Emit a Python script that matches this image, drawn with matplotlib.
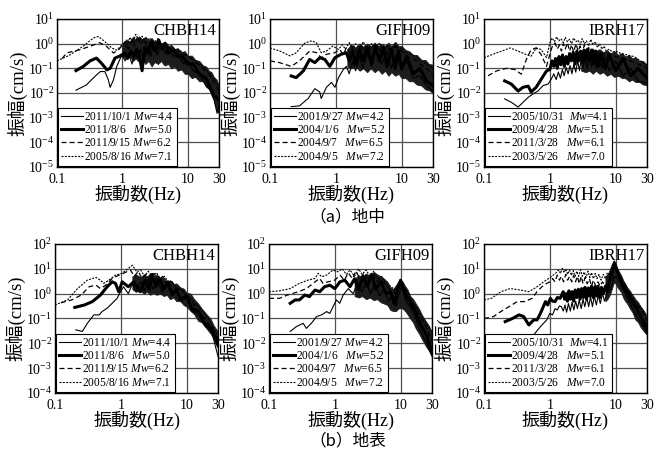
import matplotlib
matplotlib.use("Agg")
import matplotlib.pyplot as plt
from matplotlib.lines import Line2D
from matplotlib.ticker import FixedLocator, FixedFormatter, NullLocator

plt.rcParams['font.family'] = ['Liberation Serif', 'Noto Sans CJK JP']
plt.rcParams['mathtext.fontset'] = 'custom'
plt.rcParams['mathtext.rm'] = 'Liberation Serif'
plt.rcParams['mathtext.it'] = 'Liberation Serif:italic'
plt.rcParams['mathtext.bf'] = 'Liberation Serif:bold'
plt.rcParams['mathtext.default'] = 'rm'

# ---------------- data: (a) borehole ----------------
stations = ["CHBH14", "GIFH09", "IBRH17"]

a1_f71 = [0.1, 0.158, 0.25, 0.36, 0.43, 0.54, 0.69, 0.82, 1.03, 1.15, 1.3, 1.45, 1.6, 1.8, 2.0, 2.3, 2.6, 3.0, 3.5, 4.0, 4.6, 5.3, 6.0, 7.0, 8.0, 10, 13, 17, 22, 30]
a1_a71 = [0.2, 0.35, 0.78, 1.7, 1.95, 1.2, 0.66, 0.55, 1.0, 0.7, 1.8, 1.1, 2.4, 1.3, 2.0, 1.0, 1.7, 1.1, 1.6, 0.8, 1.2, 0.6, 0.7, 0.45, 0.5, 0.3, 0.2, 0.12, 0.06, 0.02]
a1_f62 = [0.12, 0.14, 0.22, 0.32, 0.45, 0.57, 0.73, 0.87, 1.1, 1.25, 1.4, 1.55, 1.7, 1.9, 2.1, 2.4, 2.8, 3.2, 3.7, 4.3, 5.0, 6.0, 7.0, 8.5, 10, 13, 17, 22, 30]
a1_a62 = [0.25, 0.42, 0.56, 0.78, 1.1, 0.78, 0.42, 0.55, 1.2, 0.6, 1.5, 0.8, 2.0, 0.9, 1.6, 0.7, 1.4, 0.8, 1.3, 0.6, 0.9, 0.5, 0.6, 0.35, 0.35, 0.18, 0.1, 0.05, 0.012]
a1_f50 = [0.195, 0.25, 0.32, 0.4, 0.48, 0.58, 0.65, 0.77, 0.92, 1.1, 1.2, 1.35, 1.5, 1.65, 1.8, 2.0, 2.2, 2.5, 2.8, 3.2, 3.6, 4.0, 4.5, 5.0, 6.0, 7.0, 8.0, 10, 12, 15, 19, 24, 30]
a1_a50 = [0.081, 0.117, 0.2, 0.26, 0.16, 0.087, 0.1, 0.26, 0.32, 0.42, 0.25, 0.5, 0.3, 0.6, 0.35, 0.08, 0.7, 0.4, 1.2, 0.5, 1.4, 0.6, 1.0, 0.4, 0.6, 0.3, 0.35, 0.15, 0.15, 0.06, 0.04, 0.01, 0.005]
a1_f44 = [0.195, 0.28, 0.38, 0.46, 0.54, 0.61, 0.65, 0.73, 0.82, 0.98, 1.1, 1.25, 1.4, 1.55, 1.7, 1.9, 2.1, 2.4, 2.7, 3.0, 3.4, 3.9, 4.5, 5.2, 6.0, 7.0, 8.5, 10, 12, 15, 19, 24, 28, 30]
a1_a44 = [0.013, 0.021, 0.047, 0.074, 0.074, 0.034, 0.017, 0.034, 0.12, 0.35, 0.2, 0.4, 0.15, 0.45, 0.25, 0.6, 0.2, 0.7, 0.3, 0.9, 0.35, 1.0, 0.4, 0.7, 0.3, 0.4, 0.15, 0.2, 0.08, 0.06, 0.02, 0.01, 0.0015, 0.003]
a1_band_f = [1.0, 1.15, 1.3, 1.45, 1.6, 1.8, 2.0, 2.25, 2.5, 2.8, 3.1, 3.5, 3.9, 4.4, 5.0, 5.6, 6.3, 7.0, 8.0, 9.0, 10, 11.5, 13, 15, 17, 19, 21, 23, 25, 27.5, 30]
a1_band_hi = [1.0, 1.5, 1.2, 1.9, 1.4, 2.0, 1.5, 1.9, 1.4, 1.7, 1.2, 1.5, 1.0, 1.2, 0.8, 0.9, 0.6, 0.65, 0.45, 0.5, 0.32, 0.33, 0.22, 0.2, 0.13, 0.12, 0.08, 0.07, 0.045, 0.035, 0.02]
a1_band_lo = [0.3, 0.25, 0.3, 0.2, 0.25, 0.18, 0.22, 0.15, 0.2, 0.12, 0.18, 0.15, 0.2, 0.13, 0.15, 0.1, 0.12, 0.08, 0.09, 0.06, 0.06, 0.04, 0.045, 0.03, 0.03, 0.018, 0.015, 0.008, 0.005, 0.002, 0.0015]

a2_f72 = [0.1, 0.142, 0.2, 0.25, 0.34, 0.43, 0.51, 0.6, 0.72, 0.9, 1.1, 1.25, 1.4, 1.6, 1.8, 2.0, 2.3, 2.6, 3.0, 3.5, 4.0, 4.6, 5.3, 6.0, 7.0, 8.0, 9.0, 10, 12, 15, 19, 24, 30]
a2_a72 = [0.67, 0.5, 0.32, 0.43, 1.07, 1.3, 1.07, 0.43, 0.5, 0.8, 0.58, 0.9, 0.6, 1.1, 0.6, 1.0, 0.6, 1.2, 0.6, 1.0, 0.5, 1.1, 0.5, 0.9, 0.5, 1.0, 0.4, 0.7, 0.4, 0.35, 0.2, 0.15, 0.1]
a2_f65 = [0.1, 0.14, 0.21, 0.28, 0.4, 0.51, 0.6, 0.72, 0.97, 1.15, 1.3, 1.45, 1.65, 1.85, 2.1, 2.4, 2.8, 3.2, 3.7, 4.3, 5.0, 6.0, 7.0, 8.0, 10, 12, 15, 19, 24, 30]
a2_a65 = [0.2, 0.17, 0.12, 0.2, 0.5, 0.43, 0.27, 0.37, 0.43, 0.58, 0.35, 0.7, 0.4, 0.8, 0.4, 0.9, 0.4, 0.8, 0.35, 0.9, 0.4, 0.8, 0.35, 0.8, 0.5, 0.3, 0.25, 0.15, 0.1, 0.05]
a2_f52 = [0.21, 0.25, 0.32, 0.4, 0.48, 0.57, 0.68, 0.81, 0.97, 1.2, 1.45, 1.6, 1.8, 2.0, 2.3, 2.6, 3.0, 3.5, 4.0, 4.6, 5.3, 6.0, 7.0, 8.0, 9.0, 10, 12, 15, 19, 24, 30]
a2_a52 = [0.049, 0.042, 0.078, 0.23, 0.17, 0.27, 0.23, 0.12, 0.27, 0.37, 0.43, 0.2, 0.5, 0.15, 0.6, 0.2, 0.7, 0.15, 0.8, 0.2, 0.7, 0.12, 0.6, 0.1, 0.5, 0.1, 0.3, 0.06, 0.1, 0.03, 0.02]
a2_f42 = [0.21, 0.28, 0.38, 0.48, 0.57, 0.6, 0.72, 0.86, 0.97, 1.1, 1.3, 1.45, 1.6, 1.8, 2.0, 2.3, 2.6, 3.0, 3.5, 4.0, 5.0, 6.0, 7.0, 8.5, 10, 12, 15, 19, 24, 30]
a2_a42 = [0.0028, 0.003, 0.006, 0.015, 0.011, 0.006, 0.017, 0.027, 0.017, 0.042, 0.09, 0.12, 0.06, 0.2, 0.08, 0.3, 0.1, 0.4, 0.12, 0.5, 0.15, 0.5, 0.1, 0.4, 0.08, 0.2, 0.04, 0.05, 0.02, 0.012]
a2_band_f = [1.5, 1.7, 2, 2.3, 2.6, 3, 3.4, 3.9, 4.4, 5, 5.6, 6.3, 7, 8, 9, 10, 11.5, 13, 15, 17, 20, 23, 26, 30]
a2_band_hi = [0.6, 0.9, 0.7, 1.0, 0.75, 1.0, 0.8, 1.1, 0.8, 1.0, 0.8, 1.1, 0.8, 1.2, 0.8, 0.8, 0.55, 0.5, 0.35, 0.35, 0.22, 0.22, 0.15, 0.14]
a2_band_lo = [0.12, 0.1, 0.12, 0.08, 0.1, 0.07, 0.1, 0.07, 0.09, 0.06, 0.08, 0.05, 0.07, 0.05, 0.06, 0.04, 0.04, 0.03, 0.03, 0.022, 0.02, 0.014, 0.013, 0.01]

a3_f70 = [0.1, 0.154, 0.25, 0.33, 0.44, 0.52, 0.62, 0.74, 0.89, 1.0, 1.08, 1.18, 1.27, 1.37, 1.48, 1.6, 1.72, 1.85, 2.0, 2.15, 2.3, 2.5, 2.7, 2.9, 3.1, 3.35, 3.6, 3.9, 4.2, 4.5, 4.9, 5.3, 5.7, 6.2, 6.7, 7.2, 8.0, 9, 10, 12, 15, 19, 24, 30]
a3_a70 = [0.27, 0.42, 0.67, 0.5, 0.36, 0.31, 0.67, 0.58, 0.27, 1.06, 1.7, 1.2, 1.9, 1.3, 1.6, 1.1, 1.8, 1.2, 1.5, 1.0, 1.7, 1.2, 1.4, 0.9, 1.6, 1.0, 1.3, 0.8, 1.5, 0.9, 1.2, 0.7, 1.0, 0.6, 0.8, 0.5, 0.6, 0.45, 0.5, 0.4, 0.35, 0.3, 0.2, 0.13]
a3_f61 = [0.115, 0.154, 0.22, 0.29, 0.37, 0.44, 0.52, 0.62, 0.74, 0.89, 1.05, 1.12, 1.2, 1.3, 1.4, 1.5, 1.6, 1.72, 1.85, 2.0, 2.15, 2.3, 2.5, 2.7, 2.9, 3.1, 3.35, 3.6, 3.9, 4.2, 4.5, 4.9, 5.3, 5.7, 6.2, 7, 8, 10, 13, 17, 22, 30]
a3_a61 = [0.05, 0.078, 0.1, 0.09, 0.058, 0.23, 0.58, 0.67, 0.36, 0.12, 0.58, 0.9, 1.06, 0.6, 0.9, 0.5, 1.0, 0.6, 1.1, 0.5, 0.9, 0.45, 1.0, 0.5, 0.8, 0.4, 0.9, 0.4, 0.7, 0.35, 0.6, 0.3, 0.5, 0.3, 0.45, 0.3, 0.4, 0.3, 0.25, 0.2, 0.15, 0.1]
a3_f51 = [0.206, 0.26, 0.33, 0.39, 0.47, 0.52, 0.62, 0.74, 0.89, 1.0, 1.08, 1.15, 1.22, 1.3, 1.38, 1.47, 1.56, 1.66, 1.77, 1.88, 2.0, 2.13, 2.27, 2.42, 2.58, 2.75, 2.93, 3.12, 3.3, 3.5, 3.75, 4.0, 4.3, 4.6, 5.0, 5.5, 6.0, 7, 8, 10, 13, 17, 22, 30]
a3_a51 = [0.031, 0.023, 0.012, 0.017, 0.019, 0.011, 0.017, 0.036, 0.078, 0.09, 0.2, 0.12, 0.25, 0.1, 0.3, 0.14, 0.35, 0.12, 0.3, 0.15, 0.4, 0.2, 0.45, 0.15, 0.5, 0.2, 0.5, 0.18, 0.55, 0.2, 0.6, 0.2, 0.55, 0.15, 0.5, 0.12, 0.4, 0.1, 0.35, 0.08, 0.25, 0.05, 0.1, 0.04]
a3_f41 = [0.206, 0.26, 0.33, 0.37, 0.47, 0.55, 0.66, 0.79, 0.94, 1.05, 1.15, 1.25, 1.35, 1.45, 1.55, 1.65, 1.77, 1.9, 2.03, 2.17, 2.32, 2.48, 2.65, 2.83, 3.0, 3.2, 3.45, 3.7, 4.0, 4.3, 4.7, 5.1, 5.6, 6.2, 7, 8, 10, 13, 17, 22, 30]
a3_a41 = [0.0058, 0.0042, 0.0027, 0.0036, 0.0067, 0.009, 0.012, 0.02, 0.023, 0.036, 0.06, 0.035, 0.07, 0.04, 0.09, 0.05, 0.11, 0.06, 0.13, 0.06, 0.15, 0.07, 0.2, 0.08, 0.25, 0.1, 0.3, 0.1, 0.35, 0.12, 0.4, 0.1, 0.4, 0.1, 0.3, 0.08, 0.2, 0.05, 0.1, 0.03, 0.025]
a3_band_f = [3, 3.5, 4, 4.5, 5, 5.7, 6.5, 7.4, 8.4, 9.5, 11, 12.5, 14, 16, 18, 20, 23, 26, 30]
a3_band_hi = [0.4, 0.55, 0.45, 0.6, 0.5, 0.6, 0.45, 0.55, 0.4, 0.5, 0.35, 0.42, 0.3, 0.35, 0.25, 0.28, 0.2, 0.2, 0.14]
a3_band_lo = [0.08, 0.07, 0.08, 0.06, 0.08, 0.06, 0.07, 0.05, 0.06, 0.045, 0.05, 0.04, 0.04, 0.03, 0.035, 0.028, 0.028, 0.022, 0.021]

# ---------------- data: (b) surface ----------------
b1_f71 = [0.1, 0.155, 0.22, 0.31, 0.42, 0.49, 0.55, 0.66, 0.83, 1.05, 1.3, 1.5, 1.75, 2.0, 2.3, 2.6, 3.0, 3.5, 4.0, 4.6, 5.3, 6.0, 7.0, 8.0, 10, 12, 15, 19, 24, 30]
b1_a71 = [0.35, 0.56, 1.6, 3.5, 4.5, 3.5, 2.6, 3.5, 5.6, 6.6, 10.4, 14, 7.6, 9, 5, 8, 5, 7, 4, 5, 3, 3, 1.8, 1.5, 0.9, 0.6, 0.3, 0.15, 0.06, 0.02]
b1_f62 = [0.123, 0.18, 0.25, 0.33, 0.42, 0.49, 0.59, 0.74, 0.94, 1.1, 1.4, 1.6, 1.85, 2.1, 2.4, 2.8, 3.2, 3.7, 4.3, 5.0, 6.0, 7.0, 8.5, 10, 12, 15, 19, 24, 30]
b1_a62 = [0.43, 0.56, 0.88, 1.9, 2.2, 1.6, 2.2, 4.1, 5.6, 6.6, 9, 5, 8, 4, 6, 3.5, 6.5, 3, 5, 2.5, 3, 1.5, 1.5, 0.7, 0.5, 0.2, 0.1, 0.04, 0.015]
b1_f50 = [0.2, 0.28, 0.37, 0.49, 0.62, 0.74, 0.83, 0.93, 1.05, 1.3, 1.57, 1.98, 2.35, 2.7, 3.0, 3.4, 3.9, 4.5, 5.2, 6.0, 7.0, 8.0, 10, 12, 15, 19, 24, 30]
b1_a50 = [0.28, 0.35, 0.48, 0.88, 1.9, 3.0, 2.6, 1.2, 3.0, 1.9, 3.0, 1.2, 3.5, 1.5, 6, 2, 4, 1.5, 3, 1, 1.5, 0.6, 0.8, 0.25, 0.2, 0.06, 0.04, 0.008]
b1_f44 = [0.207, 0.26, 0.31, 0.39, 0.47, 0.52, 0.62, 0.74, 0.88, 0.99, 1.1, 1.3, 1.5, 1.7, 2.0, 2.3, 2.7, 3.1, 3.6, 4.2, 5.0, 6.0, 7.0, 8.5, 10, 12, 15, 19, 24, 30]
b1_a44 = [0.035, 0.03, 0.064, 0.14, 0.14, 0.19, 0.26, 0.41, 0.65, 1.2, 1.9, 1.0, 2.5, 1.2, 3.0, 1.3, 4, 1.5, 3.5, 1.2, 2.5, 0.8, 1.2, 0.5, 0.7, 0.2, 0.15, 0.05, 0.03, 0.003]
b1_band_f = [1.5, 1.7, 2, 2.25, 2.5, 2.8, 3.1, 3.5, 4, 4.5, 5, 5.6, 6.3, 7, 8, 9, 10, 11.5, 13, 15, 17, 20, 23, 26, 30]
b1_band_hi = [5, 6, 4.5, 6, 5, 6.5, 5, 6, 4, 4.5, 3, 3.5, 2.4, 2.6, 1.8, 1.6, 1.1, 1.0, 0.6, 0.4, 0.25, 0.15, 0.1, 0.05, 0.03]
b1_band_lo = [1.5, 1.2, 1.3, 1.0, 1.2, 0.9, 1.1, 0.9, 1.0, 0.8, 0.9, 0.6, 0.7, 0.5, 0.5, 0.35, 0.3, 0.2, 0.15, 0.08, 0.07, 0.04, 0.025, 0.015, 0.008]

b2_f72 = [0.1, 0.145, 0.21, 0.29, 0.39, 0.5, 0.56, 0.63, 0.75, 0.94, 1.12, 1.3, 1.5, 1.7, 2.0, 2.3, 2.6, 3.0, 3.4, 3.9, 4.5, 5.2, 6.0, 7.0, 8.0, 10, 12, 15, 19, 24, 30]
b2_a72 = [1.2, 1.3, 1.6, 2.6, 3.5, 4.1, 6.6, 4.8, 5.6, 8.9, 7.6, 10, 6, 9, 5, 10, 6, 9, 5, 8, 4, 5, 2.5, 2, 1.5, 3, 1.5, 0.5, 0.2, 0.07, 0.03]
b2_f65 = [0.1, 0.145, 0.19, 0.28, 0.37, 0.5, 0.59, 0.66, 0.79, 1.0, 1.2, 1.4, 1.6, 1.85, 2.1, 2.4, 2.8, 3.2, 3.7, 4.3, 5.0, 6.0, 7.0, 8.5, 10, 12, 15, 19, 24, 30]
b2_a65 = [0.65, 0.65, 0.88, 1.2, 1.6, 3.0, 4.1, 2.6, 3.0, 3.5, 5.6, 3.5, 7, 4, 8, 4, 7, 3.5, 7, 3, 4, 2, 1.5, 1.0, 3, 1.2, 0.4, 0.15, 0.05, 0.012]
b2_f52 = [0.21, 0.25, 0.29, 0.35, 0.41, 0.5, 0.59, 0.7, 0.84, 1.0, 1.2, 1.42, 1.7, 2.0, 2.3, 2.7, 3.1, 3.6, 4.2, 5.0, 6.0, 7.0, 8.0, 9.0, 10, 11, 13, 16, 20, 25, 30]
b2_a52 = [0.41, 0.56, 0.56, 0.88, 0.76, 1.4, 1.2, 1.9, 2.2, 1.6, 3.0, 3.5, 1.9, 4, 1.5, 5, 2, 6, 1.5, 3, 1, 1.2, 0.4, 1.5, 3.5, 1.5, 0.6, 0.25, 0.06, 0.02, 0.004]
b2_f42 = [0.21, 0.26, 0.33, 0.37, 0.44, 0.53, 0.63, 0.75, 0.84, 0.94, 1.06, 1.19, 1.34, 1.6, 1.9, 2.2, 2.6, 3.0, 3.5, 4.1, 4.8, 5.6, 6.5, 7.5, 8.5, 9.5, 10.5, 12, 14, 17, 20, 25, 30]
b2_a42 = [0.03, 0.047, 0.064, 0.04, 0.064, 0.12, 0.14, 0.19, 0.16, 0.3, 0.56, 0.41, 0.88, 1.6, 1.0, 2.5, 1.2, 3, 1.0, 2.5, 0.8, 1.5, 0.5, 0.8, 0.3, 1.0, 2.0, 0.5, 0.3, 0.1, 0.03, 0.01, 0.003]
b2_band_f = [2, 2.3, 2.6, 3, 3.4, 3.9, 4.4, 5, 5.6, 6.3, 7, 7.7, 8.5, 9.2, 10, 10.8, 11.7, 12.7, 14, 15.5, 17, 19, 21, 24, 27, 30]
b2_band_hi = [4, 5.5, 4.5, 6.5, 5, 7.5, 6, 5, 4, 3, 1.8, 1.5, 2.2, 3.0, 3.5, 3.0, 2.0, 1.5, 0.8, 0.6, 0.4, 0.25, 0.14, 0.08, 0.05, 0.025]
b2_band_lo = [0.8, 0.7, 0.8, 0.6, 0.7, 0.55, 0.6, 0.45, 0.4, 0.35, 0.22, 0.2, 0.2, 0.25, 0.26, 0.25, 0.2, 0.15, 0.1, 0.07, 0.04, 0.025, 0.015, 0.008, 0.005, 0.003]

b3_f70 = [0.1, 0.13, 0.18, 0.25, 0.36, 0.48, 0.64, 0.81, 0.96, 1.13, 1.25, 1.37, 1.45, 1.55, 1.65, 1.75, 1.87, 2.0, 2.13, 2.27, 2.42, 2.58, 2.75, 2.93, 3.12, 3.33, 3.55, 3.8, 4.05, 4.3, 4.6, 4.9, 5.2, 5.6, 6.0, 6.5, 7.0, 7.5, 8.0, 8.5, 9.0, 9.5, 10, 10.5, 11.5, 12, 15, 19, 24, 30]
b3_a70 = [0.56, 0.65, 1.2, 1.6, 1.4, 1.2, 1.9, 3.0, 4.1, 5.6, 7, 9, 6.5, 10.4, 7, 10, 6, 9, 5.5, 8.5, 5, 8, 5, 9, 5, 7.5, 4.5, 8, 4.5, 7, 4, 6.5, 4, 6, 3.5, 6, 4, 7, 6, 10, 15, 20, 12, 8, 6, 4, 1.5, 0.5, 0.3, 0.12]
b3_f61 = [0.1, 0.14, 0.18, 0.24, 0.32, 0.42, 0.54, 0.64, 0.76, 0.9, 1.0, 1.1, 1.2, 1.3, 1.4, 1.5, 1.62, 1.75, 1.87, 2.0, 2.15, 2.3, 2.46, 2.63, 2.8, 3.0, 3.2, 3.45, 3.7, 4.0, 4.3, 4.6, 5.0, 5.4, 5.8, 6.3, 7.0, 8.0, 9.0, 9.7, 11, 13, 16, 20, 25, 30]
b3_a61 = [0.1, 0.12, 0.19, 0.3, 0.48, 0.48, 0.65, 1.2, 1.9, 2.6, 3, 4.1, 3, 5.6, 3.5, 5, 3, 6, 3.5, 5, 3, 5.5, 3, 5, 2.5, 5, 2.5, 4.5, 2.5, 4, 2, 3.5, 2, 3, 2, 3, 2, 4, 10, 18, 7, 3, 1.2, 0.4, 0.2, 0.08]
b3_f51 = [0.21, 0.27, 0.34, 0.4, 0.48, 0.57, 0.64, 0.72, 0.86, 0.93, 1.02, 1.1, 1.2, 1.3, 1.44, 1.52, 1.6, 1.68, 1.76, 1.85, 1.95, 2.05, 2.17, 2.3, 2.43, 2.57, 2.72, 2.88, 3.05, 3.23, 3.42, 3.62, 3.84, 4.07, 4.3, 4.56, 4.83, 5.1, 5.4, 5.75, 6.1, 6.5, 7.0, 7.5, 8.0, 9.0, 9.7, 11, 13, 16, 20, 25, 30]
b3_a51 = [0.075, 0.1, 0.14, 0.12, 0.055, 0.088, 0.088, 0.16, 0.48, 0.35, 0.65, 0.5, 0.48, 0.7, 0.65, 0.9, 1.2, 0.6, 1.0, 0.5, 1.3, 0.6, 1.2, 0.5, 1.4, 0.7, 1.5, 0.6, 1.6, 0.7, 1.8, 0.6, 1.7, 0.8, 2.0, 0.7, 1.9, 0.8, 2.0, 0.7, 1.8, 1.0, 2.0, 1.2, 3, 8, 15, 6, 2, 0.8, 0.3, 0.1, 0.04]
b3_f41 = [0.5, 0.6, 0.72, 0.9, 1.0, 1.1, 1.2, 1.3, 1.4, 1.5, 1.6, 1.7, 1.8, 1.92, 2.05, 2.18, 2.32, 2.47, 2.63, 2.8, 3.0, 3.2, 3.4, 3.65, 3.9, 4.15, 4.45, 4.75, 5.1, 5.45, 5.85, 6.3, 6.8, 7.5, 8.5, 9.5, 11, 13, 16, 20, 25, 30]
b3_a41 = [0.012, 0.026, 0.047, 0.088, 0.16, 0.14, 0.25, 0.22, 0.32, 0.3, 0.2, 0.35, 0.18, 0.4, 0.2, 0.45, 0.22, 0.5, 0.25, 0.55, 0.25, 0.6, 0.3, 0.7, 0.3, 0.75, 0.3, 0.8, 0.35, 0.9, 0.4, 1.0, 0.5, 1.2, 1.5, 5, 4, 1.5, 0.5, 0.15, 0.06, 0.025]
b3_band_f = [7, 7.5, 8, 8.5, 9, 9.5, 10, 10.7, 11.5, 12.3, 13, 14, 15, 16.5, 18, 20, 22, 24, 27, 30]
b3_band_hi = [5, 6, 8, 12, 18, 22, 16, 10, 7, 5, 3.5, 2.5, 1.8, 1.3, 0.9, 0.6, 0.45, 0.3, 0.2, 0.12]
b3_band_lo = [0.5, 0.6, 0.8, 1.2, 2.0, 3, 2.5, 1.8, 1.4, 1.1, 0.7, 0.5, 0.4, 0.25, 0.18, 0.09, 0.07, 0.045, 0.03, 0.022]

legend_labels_1 = ["2011/10/1 $\\mathit{Mw}$=4.4", "2011/8/6   $\\mathit{Mw}$=5.0",
                   "2011/9/15 $\\mathit{Mw}$=6.2", "2005/8/16 $\\mathit{Mw}$=7.1"]
legend_labels_2 = ["2001/9/27 $\\mathit{Mw}$=4.2", "2004/1/6   $\\mathit{Mw}$=5.2",
                   "2004/9/7   $\\mathit{Mw}$=6.5", "2004/9/5   $\\mathit{Mw}$=7.2"]
legend_labels_3 = ["2005/10/31  $\\mathit{Mw}$=4.1", "2009/4/28   $\\mathit{Mw}$=5.1",
                   "2011/3/28   $\\mathit{Mw}$=6.1", "2003/5/26   $\\mathit{Mw}$=7.0"]

x_ticks = [0.1, 1, 10, 30]
x_tick_labels = ["0.1", "1", "10", "30"]

# styles: thin solid, thick solid, dashed, dotted (order: small -> large Mw)
styles = [dict(lw=0.8, ls='-'), dict(lw=2.2, ls='-'),
          dict(lw=0.9, ls=(0, (4, 2.5))), dict(lw=0.8, ls=(0, (1.8, 1.2)))]

fig = plt.figure(figsize=(6.65, 4.5), dpi=100)

panels = [
    ([57/665, 1-167/450, 162/665, 148/450], stations[0],
     [(a1_f44, a1_a44), (a1_f50, a1_a50), (a1_f62, a1_a62), (a1_f71, a1_a71)],
     (a1_band_f, a1_band_hi, a1_band_lo), legend_labels_1, (-5, 1)),
    ([270/665, 1-167/450, 163/665, 148/450], stations[1],
     [(a2_f42, a2_a42), (a2_f52, a2_a52), (a2_f65, a2_a65), (a2_f72, a2_a72)],
     (a2_band_f, a2_band_hi, a2_band_lo), legend_labels_2, (-5, 1)),
    ([484/665, 1-167/450, 163/665, 148/450], stations[2],
     [(a3_f41, a3_a41), (a3_f51, a3_a51), (a3_f61, a3_a61), (a3_f70, a3_a70)],
     (a3_band_f, a3_band_hi, a3_band_lo), legend_labels_3, (-5, 1)),
    ([55/665, 1-393/450, 163/665, 149/450], stations[0],
     [(b1_f44, b1_a44), (b1_f50, b1_a50), (b1_f62, b1_a62), (b1_f71, b1_a71)],
     (b1_band_f, b1_band_hi, b1_band_lo), legend_labels_1, (-4, 2)),
    ([269/665, 1-393/450, 163/665, 149/450], stations[1],
     [(b2_f42, b2_a42), (b2_f52, b2_a52), (b2_f65, b2_a65), (b2_f72, b2_a72)],
     (b2_band_f, b2_band_hi, b2_band_lo), legend_labels_2, (-4, 2)),
    ([484/665, 1-393/450, 163/665, 149/450], stations[2],
     [(b3_f41, b3_a41), (b3_f51, b3_a51), (b3_f61, b3_a61), (b3_f70, b3_a70)],
     (b3_band_f, b3_band_hi, b3_band_lo), legend_labels_3, (-4, 2)),
]

for rect, name, curves, band, labels, (e0, e1) in panels:
    ax = fig.add_axes(rect)
    ax.set_xscale('log')
    ax.set_yscale('log')
    ax.set_xlim(0.1, 30)
    ax.set_ylim(10.0 ** e0, 10.0 ** e1)
    bf, bhi, blo = band
    ax.fill_between(bf, blo, bhi, color='#1c1c1c', lw=0.6, edgecolor='#1c1c1c', zorder=2)
    for (f, a), st in zip(curves, styles):
        ax.plot(f, a, color='black', zorder=3, **st)
    ax.xaxis.set_major_locator(FixedLocator(x_ticks))
    ax.xaxis.set_major_formatter(FixedFormatter(x_tick_labels))
    ax.xaxis.set_minor_locator(NullLocator())
    yt = [10.0 ** e for e in range(e0, e1 + 1)]
    ax.yaxis.set_major_locator(FixedLocator(yt))
    ax.yaxis.set_major_formatter(FixedFormatter(["$10^{%d}$" % e for e in range(e0, e1 + 1)]))
    ax.yaxis.set_minor_locator(NullLocator())
    ax.tick_params(axis='x', length=0, pad=4.5, labelsize=10)
    ax.tick_params(axis='y', length=0, pad=2.0, labelsize=10)
    ax.grid(True, which='major', color='#505050', lw=0.9, zorder=1)
    ax.set_axisbelow(True)
    for s in ax.spines.values():
        s.set_linewidth(1.0)
        s.set_color('black')
    ax.set_xlabel("振動数(Hz)", fontsize=13, labelpad=-1)
    ax.set_ylabel("振幅(cm/s)", fontsize=13.5, labelpad=0)
    ax.text(0.985, 0.975, name, transform=ax.transAxes, ha='right', va='top',
            fontsize=12, zorder=5)
    handles = [Line2D([], [], color='black', **st) for st in styles]
    leg = ax.legend(handles, labels, loc='lower left', fontsize=8.3,
                    frameon=True, fancybox=False, framealpha=1, edgecolor='black',
                    borderpad=0.25, labelspacing=0.12, handlelength=1.9,
                    handletextpad=0.1, borderaxespad=0.12)
    leg.get_frame().set_linewidth(0.8)
    leg.set_zorder(6)

fig.text(0.523, 1 - 217/450, "（a）地中", ha='center', va='center', fontsize=12,
         family=['Noto Sans CJK JP', 'DejaVu Sans'])
fig.text(0.523, 1 - 441/450, "（b）地表", ha='center', va='center', fontsize=12,
         family=['Noto Sans CJK JP', 'DejaVu Sans'])

fig.savefig("out.png", dpi=100)
